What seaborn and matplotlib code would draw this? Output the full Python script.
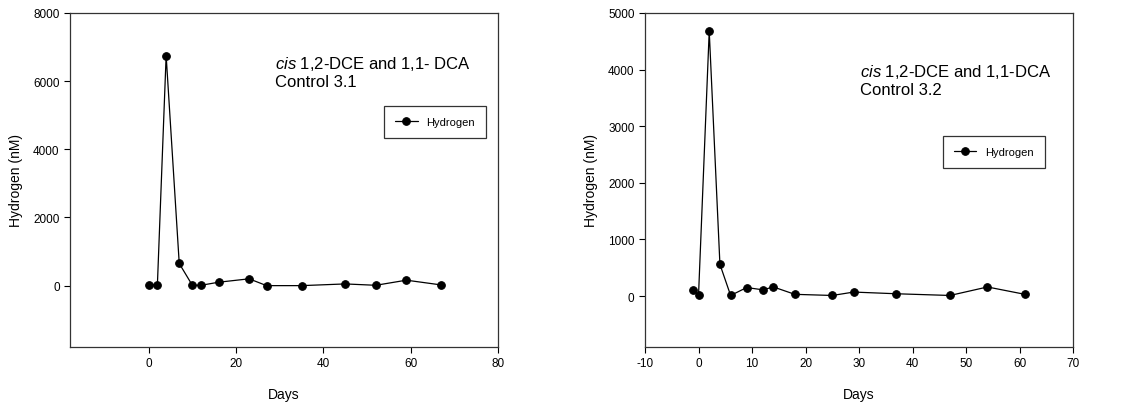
import pandas as pd
import numpy as np
import matplotlib.pyplot as plt
import seaborn as sns

# datos
dias_31 = [0, 2, 4, 7, 10, 12, 16, 23, 27, 35, 45, 52, 59, 67]
h2_31 = [20, 30, 6750, 650, 10, 10, 100, 200, 0, 0, 50, 10, 160, 20]

dias_32 = [-1, 0, 2, 4, 6, 9, 12, 14, 18, 25, 29, 37, 47, 54, 61]
h2_32 = [100, 10, 4680, 560, 10, 150, 110, 160, 30, 10, 70, 40, 10, 160, 30]

sns.set_style("ticks")
plt.rcParams['font.family'] = ['Liberation Sans', 'DejaVu Sans']
plt.rcParams['mathtext.fontset'] = 'custom'
plt.rcParams['mathtext.it'] = 'Liberation Sans:italic'
plt.rcParams['mathtext.rm'] = 'Liberation Sans'
plt.rcParams['axes.unicode_minus'] = False
plt.rcParams['text.color'] = 'black'
plt.rcParams['axes.labelcolor'] = 'black'

fig = plt.figure(figsize=(11.39, 4.06), dpi=100)
ax1 = fig.add_axes([0.0615, 0.1429, 0.3758, 0.8227])
ax2 = fig.add_axes([0.5663, 0.1429, 0.3758, 0.8227])

def panel(ax, dias, h2, titulo, xlim, xticks, ylim, yticks, leg_pos, txt_pos):
    df = pd.DataFrame({'Days': dias, 'Hydrogen': h2})
    sns.lineplot(data=df, x='Days', y='Hydrogen', ax=ax, color='black', marker='o',
                 markersize=5.5, markeredgecolor='black', linewidth=0.9, label='Hydrogen')
    ax.set_xlim(*xlim)
    ax.set_ylim(*ylim)
    ax.set_xticks(xticks)
    ax.set_yticks(yticks)
    ax.set_xlabel('Days', fontsize=10, labelpad=13)
    ax.set_ylabel('Hydrogen (nM)', fontsize=10, labelpad=7)
    ax.tick_params(labelsize=8.5, direction='out', length=4, width=0.8, colors='black')
    for s in ax.spines.values():
        s.set_color('#333333')
        s.set_linewidth(0.9)
    leg = ax.legend(loc='upper left', bbox_to_anchor=leg_pos, fontsize=8, frameon=True,
                    fancybox=False, edgecolor='black', handlelength=2.0, borderpad=1.0,
                    borderaxespad=0)
    leg.get_frame().set_linewidth(0.9)
    ax.text(txt_pos[0], txt_pos[1], titulo, transform=ax.transAxes, fontsize=12,
            va='top', ha='left', linespacing=1.15)

panel(ax1, dias_31, h2_31, r'$\it{cis}$ 1,2-DCE and 1,1- DCA' + '\nControl 3.1',
      (-18, 80), [0, 20, 40, 60, 80], (-1800, 8000), [0, 2000, 4000, 6000, 8000],
      (0.734, 0.722), (0.479, 0.878))
panel(ax2, dias_32, h2_32, r'$\it{cis}$ 1,2-DCE and 1,1-DCA' + '\nControl 3.2',
      (-10, 70), [-10, 0, 10, 20, 30, 40, 50, 60, 70], (-900, 5000),
      [0, 1000, 2000, 3000, 4000, 5000], (0.696, 0.632), (0.502, 0.853))

fig.savefig('out.png', dpi=100)
